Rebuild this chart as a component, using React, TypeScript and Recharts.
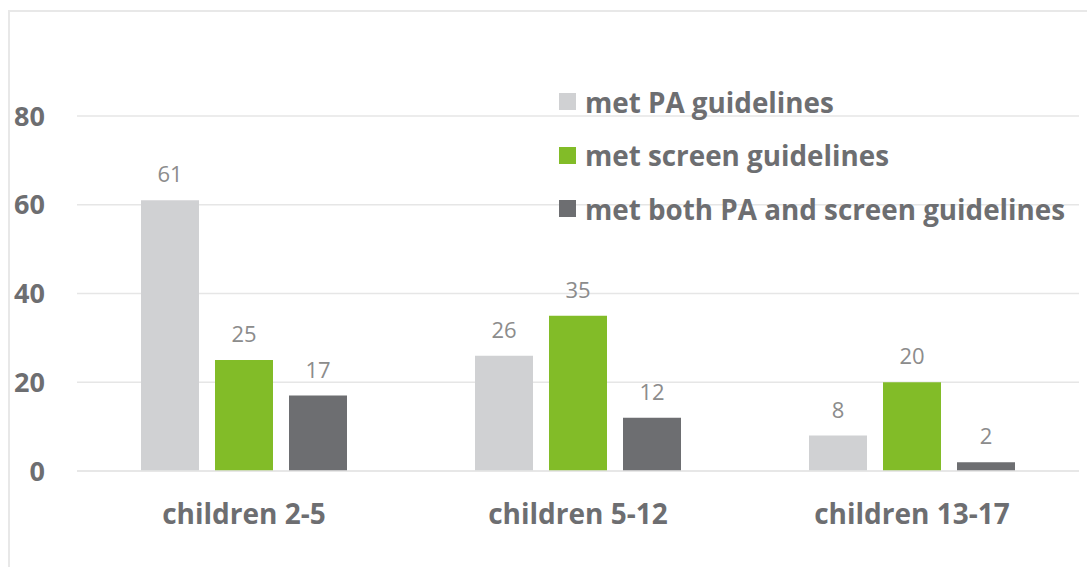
import React from 'react';
import { BarChart, Bar, XAxis, YAxis, CartesianGrid, LabelList } from 'recharts';

const categories = ['children 2-5', 'children 5-12', 'children 13-17'];
const metPA = [61, 26, 8];
const metScreen = [25, 35, 20];
const metBoth = [17, 12, 2];
const yTicks = [0, 20, 40, 60, 80];

const seriesInfo = [
  { key: 'pa', name: 'met PA guidelines', color: '#d0d1d3' },
  { key: 'screen', name: 'met screen guidelines', color: '#82bc28' },
  { key: 'both', name: 'met both PA and screen guidelines', color: '#6d6e71' },
];

const data = categories.map((c, i) => ({
  category: c,
  pa: metPA[i],
  screen: metScreen[i],
  both: metBoth[i],
}));

const FONT = '"Open Sans", "Noto Sans", sans-serif';
const TEXT = '#6d6e71';

// legend drawn as an overlay so it does not shrink the plot area
const LegendBox = () => (
  <div style={{ position: 'absolute', left: 559, top: 75, fontFamily: FONT }}>
    {seriesInfo.map((s) => (
      <div key={s.key} style={{ display: 'flex', alignItems: 'center', height: 53.5 }}>
        <span style={{ width: 17, height: 17, background: s.color, display: 'inline-block', marginRight: 9 }} />
        <span style={{ fontSize: 27.8, fontWeight: 700, color: TEXT, whiteSpace: 'nowrap' }}>{s.name}</span>
      </div>
    ))}
  </div>
);

export default function App() {
  return (
    <div style={{ position: 'absolute', left: 0, top: 0, width: 1087, height: 567, overflow: 'hidden', background: '#fff' }}>
      <div
        style={{
          position: 'absolute',
          left: 8,
          top: 10,
          width: 1100,
          height: 600,
          border: '2px solid #e8e8e8',
        }}
      />
      <div style={{ position: 'absolute', left: 0, top: 0 }}>
        <BarChart
          width={1087}
          height={567}
          data={data}
          margin={{ top: 116, right: 8, bottom: 0, left: 17 }}
          barSize={58}
          barGap={16}
        >
          <CartesianGrid vertical={false} stroke="#e6e6e6" strokeWidth={1.5} />
          <XAxis
            dataKey="category"
            height={96}
            axisLine={{ stroke: '#e6e6e6', strokeWidth: 1.5 }}
            tickLine={false}
            tickSize={0}
            tickMargin={33}
            tick={{ fill: TEXT, fontSize: 28, fontWeight: 700, fontFamily: FONT }}
          />
          <YAxis
            width={60}
            domain={[0, 80]}
            ticks={yTicks}
            axisLine={false}
            tickLine={false}
            tickSize={0}
            tickMargin={32}
            tick={{ fill: TEXT, fontSize: 27, fontWeight: 700, fontFamily: FONT }}
          />
          {seriesInfo.map((s) => (
            <Bar key={s.key} dataKey={s.key} name={s.name} fill={s.color} isAnimationActive={false}>
              <LabelList
                dataKey={s.key}
                position="top"
                offset={18}
                style={{ fill: '#8c8c8c', fontSize: 22, fontFamily: FONT }}
              />
            </Bar>
          ))}
        </BarChart>
      </div>
      <LegendBox />
    </div>
  );
}
